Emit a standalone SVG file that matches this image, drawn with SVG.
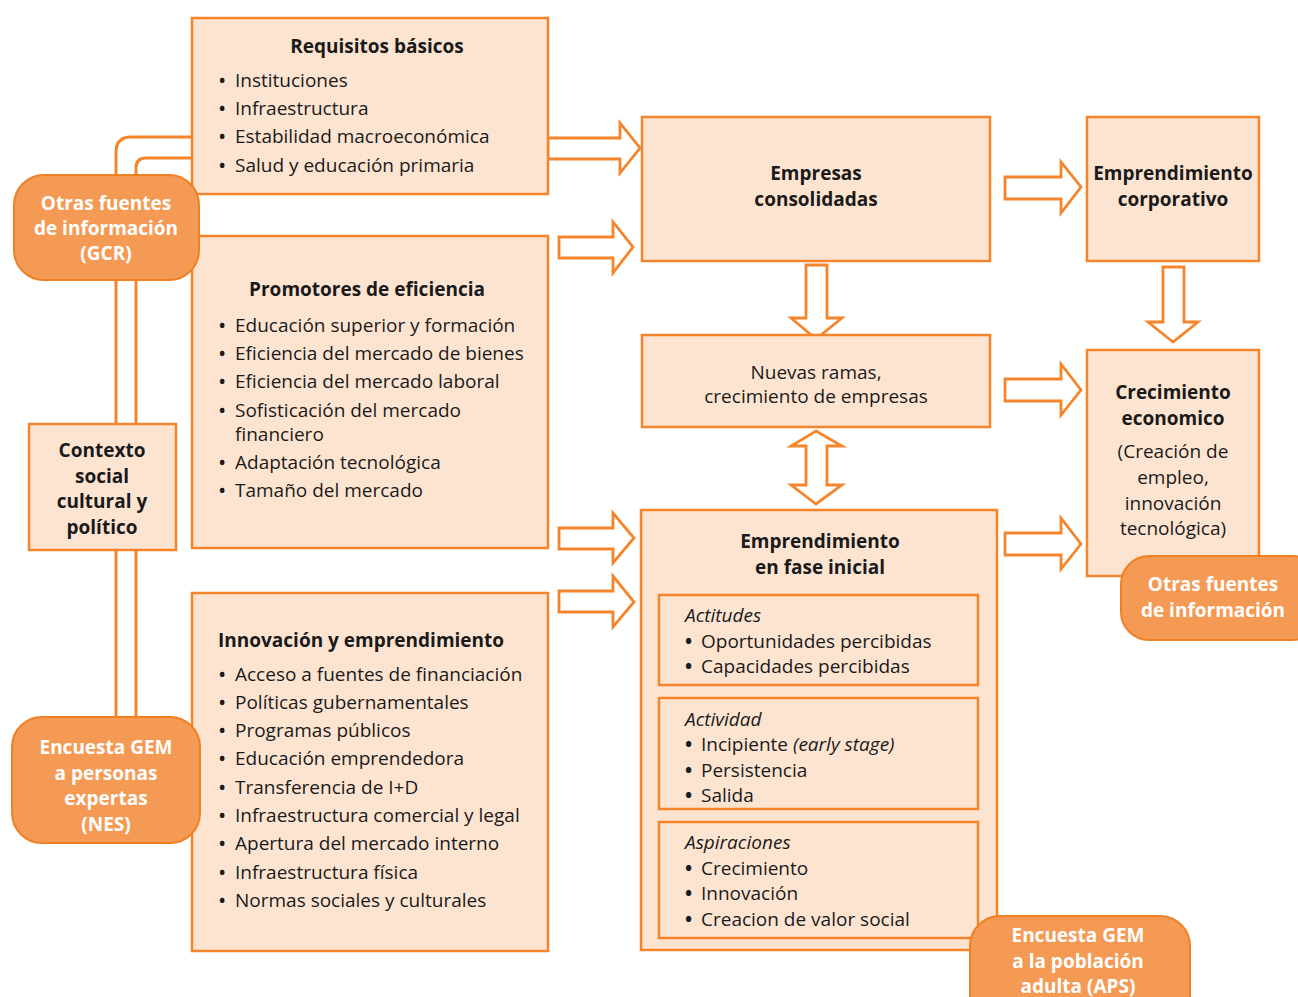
<svg xmlns="http://www.w3.org/2000/svg" width="1298" height="997" viewBox="0 0 1298 997">
<style>
.box{fill:#fde4d1;stroke:#f5842a;stroke-width:2.5}
.inner{fill:none;stroke:#f5842a;stroke-width:2.5}
.badge{fill:#f59a54;stroke:#f08024;stroke-width:2}
.arr{fill:#fff;stroke:#f5842a;stroke-width:2.8;stroke-linejoin:miter}
.ln{fill:none;stroke:#f5842a;stroke-width:3}
text{font-family:"Open Sans","Noto Sans","DejaVu Sans",sans-serif;font-size:19px;fill:#1a1a1a}
.b{font-weight:bold}
.c{text-anchor:middle}
.w{fill:#fff;font-weight:bold}
.i{font-style:italic}
.d{font-size:22px}
.e{font-size:19px;font-weight:bold}
</style>
<rect width="1298" height="997" fill="#fff"/>
<g id="connectors">
<path class="ln" d="M192,137 H131 Q116,137 116,152 V720"/>
<path class="ln" d="M192,158 H146 Q136,158 136,168 V720"/>
<polygon class="arr" points="548,138 620,138 620,123 640,148 620,173 620,159 548,159"/>
<polygon class="arr" points="559,237 613,237 613,222 633,247 613,273 613,258 559,258"/>
<polygon class="arr" points="559,528 613,528 613,513 634,538 613,563 613,549 559,549"/>
<polygon class="arr" points="559,591 613,591 613,576 634,602 613,627 613,612 559,612"/>
<polygon class="arr" points="1005,177 1061,177 1061,162 1081,187 1061,213 1061,199 1005,199"/>
<polygon class="arr" points="1005,379 1061,379 1061,364 1081,390 1061,415 1061,401 1005,401"/>
<polygon class="arr" points="1005,533 1061,533 1061,518 1081,544 1061,569 1061,555 1005,555"/>
<polygon class="arr" points="806,265 827,265 827,318 842,318 816,339 791,318 806,318"/>
<polygon class="arr" points="816,431 842,446 827,446 827,485 842,485 816,504 791,485 806,485 806,446 791,446"/>
<polygon class="arr" points="1163,267 1184,267 1184,322 1198,322 1173,342 1148,322 1163,322"/>
</g>
<g id="requisitos">
<rect class="box" x="192" y="18" width="356" height="176"/>
<text class="b c" x="377" y="53">Requisitos básicos</text>
<text class="d" x="218" y="88">•</text><text x="235" y="87">Instituciones</text>
<text class="d" x="218" y="116">•</text><text x="235" y="115">Infraestructura</text>
<text class="d" x="218" y="144">•</text><text x="235" y="143">Estabilidad macroeconómica</text>
<text class="d" x="218" y="173">•</text><text x="235" y="172">Salud y educación primaria</text>
</g>
<g id="promotores">
<rect class="box" x="192" y="236" width="356" height="312"/>
<text class="b c" x="367" y="296">Promotores de eficiencia</text>
<text class="d" x="218" y="333">•</text><text x="235" y="332">Educación superior y formación</text>
<text class="d" x="218" y="361">•</text><text x="235" y="360">Eficiencia del mercado de bienes</text>
<text class="d" x="218" y="389">•</text><text x="235" y="388">Eficiencia del mercado laboral</text>
<text class="d" x="218" y="418">•</text><text x="235" y="417">Sofisticación del mercado</text>
<text x="235" y="441">financiero</text>
<text class="d" x="218" y="470">•</text><text x="235" y="469">Adaptación tecnológica</text>
<text class="d" x="218" y="498">•</text><text x="235" y="497">Tamaño del mercado</text>
</g>
<g id="innovacion">
<rect class="box" x="192" y="593" width="356" height="358"/>
<text class="b" x="218" y="647">Innovación y emprendimiento</text>
<text class="d" x="218" y="682">•</text><text x="235" y="681">Acceso a fuentes de financiación</text>
<text class="d" x="218" y="710">•</text><text x="235" y="709">Políticas gubernamentales</text>
<text class="d" x="218" y="738">•</text><text x="235" y="737">Programas públicos</text>
<text class="d" x="218" y="766">•</text><text x="235" y="765">Educación emprendedora</text>
<text class="d" x="218" y="795">•</text><text x="235" y="794">Transferencia de I+D</text>
<text class="d" x="218" y="823">•</text><text x="235" y="822">Infraestructura comercial y legal</text>
<text class="d" x="218" y="851">•</text><text x="235" y="850">Apertura del mercado interno</text>
<text class="d" x="218" y="880">•</text><text x="235" y="879">Infraestructura física</text>
<text class="d" x="218" y="908">•</text><text x="235" y="907">Normas sociales y culturales</text>
</g>
<g id="empresas">
<rect class="box" x="642" y="117" width="348" height="144"/>
<text class="b c" x="816" y="180">Empresas</text>
<text class="b c" x="816" y="206">consolidadas</text>
</g>
<g id="corporativo">
<rect class="box" x="1087" y="117" width="172" height="144"/>
<text class="b c" x="1173" y="180">Emprendimiento</text>
<text class="b c" x="1173" y="206">corporativo</text>
</g>
<g id="nuevas">
<rect class="box" x="642" y="335" width="348" height="92"/>
<text class="c" x="816" y="379">Nuevas ramas,</text>
<text class="c" x="816" y="403">crecimiento de empresas</text>
</g>
<g id="crecimiento">
<rect class="box" x="1087" y="350" width="172" height="226"/>
<text class="b c" x="1173" y="399">Crecimiento</text>
<text class="b c" x="1173" y="425">economico</text>
<text class="c" x="1173" y="458">(Creación de</text>
<text class="c" x="1173" y="484">empleo,</text>
<text class="c" x="1173" y="510">innovación</text>
<text class="c" x="1173" y="535">tecnológica)</text>
</g>
<g id="fase-inicial">
<rect class="box" x="641" y="510" width="356" height="440"/>
<text class="b c" x="820" y="548">Emprendimiento</text>
<text class="b c" x="820" y="574">en fase inicial</text>
<rect class="inner" x="659" y="595" width="319" height="90"/>
<text class="i" x="685" y="622">Actitudes</text>
<text class="e" x="685" y="648">•</text><text x="701" y="648">Oportunidades percibidas</text>
<text class="e" x="685" y="673">•</text><text x="701" y="673">Capacidades percibidas</text>
<rect class="inner" x="659" y="698" width="319" height="111"/>
<text class="i" x="685" y="726">Actividad</text>
<text class="e" x="685" y="751">•</text><text x="701" y="751">Incipiente <tspan class="i">(early stage)</tspan></text>
<text class="e" x="685" y="777">•</text><text x="701" y="777">Persistencia</text>
<text class="e" x="685" y="802">•</text><text x="701" y="802">Salida</text>
<rect class="inner" x="659" y="822" width="319" height="116"/>
<text class="i" x="685" y="849">Aspiraciones</text>
<text class="e" x="685" y="875">•</text><text x="701" y="875">Crecimiento</text>
<text class="e" x="685" y="900">•</text><text x="701" y="900">Innovación</text>
<text class="e" x="685" y="926">•</text><text x="701" y="926">Creacion de valor social</text>
</g>
<g id="contexto">
<rect class="box" x="29" y="424" width="147" height="126"/>
<text class="b c" x="102" y="457">Contexto</text>
<text class="b c" x="102" y="483">social</text>
<text class="b c" x="102" y="508">cultural y</text>
<text class="b c" x="102" y="534">político</text>
</g>
<g id="gcr">
<rect class="badge" x="14" y="175" width="185" height="105" rx="30"/>
<text class="w c" x="106" y="210">Otras fuentes</text>
<text class="w c" x="106" y="235">de información</text>
<text class="w c" x="106" y="260">(GCR)</text>
</g>
<g id="nes">
<rect class="badge" x="12" y="717" width="188" height="126" rx="30"/>
<text class="w c" x="106" y="754">Encuesta GEM</text>
<text class="w c" x="106" y="780">a personas</text>
<text class="w c" x="106" y="805">expertas</text>
<text class="w c" x="106" y="831">(NES)</text>
</g>
<g id="otras-fuentes">
<rect class="badge" x="1121" y="556" width="200" height="84" rx="28"/>
<text class="w c" x="1213" y="591">Otras fuentes</text>
<text class="w c" x="1213" y="617">de información</text>
</g>
<g id="aps">
<rect class="badge" x="970" y="916" width="220" height="110" rx="30"/>
<text class="w c" x="1078" y="942">Encuesta GEM</text>
<text class="w c" x="1078" y="968">a la población</text>
<text class="w c" x="1078" y="993">adulta (APS)</text>
</g>
</svg>
